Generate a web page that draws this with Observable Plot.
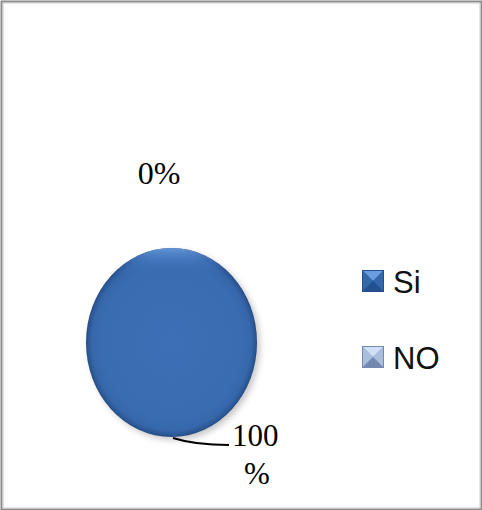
<!DOCTYPE html>
<html>
<head>
<meta charset="utf-8">
<script src="https://cdn.jsdelivr.net/npm/d3@7"></script>
<script src="https://cdn.jsdelivr.net/npm/@observablehq/plot@0.6"></script>
<style>
  html, body { margin: 0; padding: 0; background: #fff; }
  #chart svg { display: block; }
</style>
</head>
<body>
<div id="chart"></div>
<script>
// ---- data ----
const categories = ["Si", "NO"];
const values = [100, 0];
const pctLabels = ["100\n%", "0%"];
const sliceColors = ["#3b6db2", "#8fa6cf"];

const W = 482, H = 510;
const data = categories.map((c, i) => ({category: c, value: values[i], label: pctLabels[i], color: sliceColors[i]}));

// layout (pixel geometry in chart coordinates)
const pie = {cx: 171.5, cy: 342.5, rx: 85.5, ry: 94.5};

function pieMark(index, scales) {
  const g = d3.create("svg:g");
  const defs = g.append("defs");
  const grad = defs.append("radialGradient").attr("id", "pieGrad").attr("cx", "50%").attr("cy", "50%").attr("r", "50%");
  [[0, "#3c6fb5"], [0.82, "#3a6cb1"], [0.93, "#3567aa"], [0.985, "#2a5592"], [1, "#22467c"]]
    .forEach(([o, c]) => grad.append("stop").attr("offset", o).attr("stop-color", c));
  const hl = defs.append("linearGradient").attr("id", "pieHL").attr("x1", 0).attr("y1", 0).attr("x2", 0).attr("y2", 1);
  [[0, "#6d9fe0", 0.9], [0.06, "#4f83cc", 0.5], [0.14, "#3b6db2", 0]]
    .forEach(([o, c, a]) => hl.append("stop").attr("offset", o).attr("stop-color", c).attr("stop-opacity", a));
  const blur = defs.append("filter").attr("id", "shadow").attr("x", "-20%").attr("y", "-20%").attr("width", "140%").attr("height", "140%");
  blur.append("feGaussianBlur").attr("stdDeviation", 3);

  const cx = scales.x(pie.cx), cy = scales.y(pie.cy);
  const sx = scales.x(pie.cx + pie.rx) - cx, sy = scales.y(pie.cy + pie.ry) - cy;
  const arcs = d3.pie().value(d => d.value).sort(null)(data);
  const arc = d3.arc().innerRadius(0).outerRadius(1);
  // shadow
  g.append("ellipse").attr("cx", cx + 3).attr("cy", cy + 3).attr("rx", sx).attr("ry", sy)
    .attr("fill", "#000").attr("opacity", 0.22).attr("filter", "url(#shadow)");
  const sg = g.append("g").attr("transform", `translate(${cx},${cy}) scale(${sx},${sy})`);
  arcs.filter(a => a.endAngle - a.startAngle > 0).forEach(a => {
    sg.append("path").attr("d", arc(a)).attr("fill", a.data.category === "Si" ? "url(#pieGrad)" : a.data.color);
    sg.append("path").attr("d", arc(a)).attr("fill", "url(#pieHL)");
  });
  // labels
  const serif = "Liberation Serif, Times New Roman, serif";
  arcs.forEach(a => {
    if (a.data.value === 0) {
      g.append("text").attr("x", scales.x(159)).attr("y", scales.y(184))
        .attr("text-anchor", "middle").attr("font-family", serif)
        .attr("font-size", 32).attr("fill", "#000").text(a.data.label);
    } else {
      const [l1, l2] = a.data.label.split("\n");
      g.append("path").attr("d", `M${scales.x(173)},${scales.y(438)} Q${scales.x(195)},${scales.y(445)} ${scales.x(229)},${scales.y(445)}`)
        .attr("fill", "none").attr("stroke", "#000").attr("stroke-width", 2);
      g.append("text").attr("x", scales.x(232)).attr("y", scales.y(446)).attr("text-anchor", "start")
        .attr("font-family", serif).attr("font-size", 31).attr("fill", "#000").text(l1);
      g.append("text").attr("x", scales.x(257)).attr("y", scales.y(484)).attr("text-anchor", "middle")
        .attr("font-family", serif).attr("font-size", 31).attr("fill", "#000").text(l2);
    }
  });
  return g.node();
}

const legendY = [281, 357];
const legendMarkers = [
  {base: "#2d5c9e", top: "#6a9de0", side: "#3466ab", bottom: "#23508f"},
  {base: "#8da3c9", top: "#d0e0f7", side: "#a9bddd", bottom: "#7489b0"}
];
function legendMark(index, scales) {
  const g = d3.create("svg:g");
  categories.forEach((c, i) => {
    const x0 = scales.x(362), x1 = scales.x(384);
    const y0 = scales.y(legendY[i] - 11), y1 = scales.y(legendY[i] + 11);
    const mx = (x0 + x1) / 2, my = (y0 + y1) / 2;
    const m = legendMarkers[i];
    g.append("rect").attr("x", x0).attr("y", y0).attr("width", x1 - x0).attr("height", y1 - y0).attr("fill", m.base);
    g.append("path").attr("d", `M${x0},${y0}L${x1},${y0}L${mx},${my}Z`).attr("fill", m.top);
    g.append("path").attr("d", `M${x0},${y0}L${mx},${my}L${x0},${y1}Z`).attr("fill", m.side);
    g.append("path").attr("d", `M${x1},${y0}L${mx},${my}L${x1},${y1}Z`).attr("fill", m.side);
    g.append("path").attr("d", `M${x0},${y1}L${mx},${my}L${x1},${y1}Z`).attr("fill", m.bottom);
    g.append("rect").attr("x", x0 + 0.5).attr("y", y0 + 0.5).attr("width", x1 - x0 - 1).attr("height", y1 - y0 - 1)
      .attr("fill", "none").attr("stroke", m.bottom).attr("stroke-width", 1);
    g.append("text").attr("x", scales.x(393)).attr("y", scales.y(legendY[i] + 12)).attr("text-anchor", "start")
      .attr("font-family", "Liberation Sans, Arial, sans-serif").attr("font-size", 31).attr("fill", "#111").text(c);
  });
  return g.node();
}

const chart = Plot.plot({
  width: W, height: H,
  margin: 0,
  x: {domain: [0, W], range: [0, W], axis: null},
  y: {domain: [0, H], range: [0, H], axis: null},
  style: {background: "#fff"},
  marks: [
    Plot.frame({stroke: "#8a8a8a", strokeWidth: 2, inset: 1}),
    Plot.frame({stroke: "#c8c8c8", strokeWidth: 1, inset: 2.5}),
    pieMark,
    legendMark
  ]
});
document.getElementById("chart").append(chart);
</script>
</body>
</html>
